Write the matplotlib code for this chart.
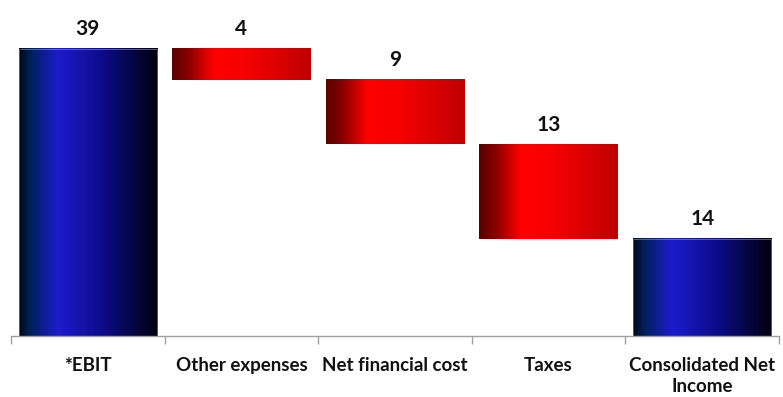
import numpy as np
import matplotlib
matplotlib.use("Agg")
import matplotlib.pyplot as plt
from matplotlib.colors import LinearSegmentedColormap

categories = ["*EBIT", "Other expenses", "Net financial cost", "Taxes", "Consolidated Net\nIncome"]
values = [39.3, -4.3, -8.8, -12.9, 13.3]
labels = ["39", "4", "9", "13", "14"]
is_total = [True, False, False, False, True]

blue_cmap = LinearSegmentedColormap.from_list(
    "blue_grad", [(0.0, "#000818"), (0.08, "#00205a"), (0.28, "#1c1ccc"),
                  (0.6, "#0c0c8a"), (1.0, "#00000c")])
red_cmap = LinearSegmentedColormap.from_list(
    "red_grad", [(0.0, "#5a0000"), (0.12, "#8a0000"), (0.3, "#ff0000"),
                 (0.55, "#f50000"), (1.0, "#be0000")])

fig = plt.figure(figsize=(7.83, 3.97), dpi=100)
ax = fig.add_axes([11 / 783, 61 / 397, 768 / 783, 326 / 397])

grad = np.linspace(0, 1, 256).reshape(1, -1)
width = 0.9
running = 0.0
for i, (v, lab, tot) in enumerate(zip(values, labels, is_total)):
    if tot:
        bottom, top = 0.0, v
        running = v
        cmap = blue_cmap
    else:
        top = running
        bottom = running + v
        running = bottom
        cmap = red_cmap
    ax.imshow(grad, cmap=cmap, aspect="auto", interpolation="bilinear",
              extent=(i - width / 2, i + width / 2, bottom, top), zorder=2)
    if tot:
        ax.add_patch(plt.Rectangle((i - width / 2, bottom), width, top - bottom,
                                   fill=False, edgecolor="#9a9aa8", linewidth=0.4, zorder=3))
    ax.annotate(lab, xy=(i, top), xytext=(0, 10), textcoords="offset points",
                ha="center", va="baseline", fontsize=15, fontweight="bold",
                family="Lato", color="#111111")

ax.set_xlim(-0.5, len(categories) - 0.5)
ax.set_ylim(0, 44.6)

for s in ["top", "right", "left"]:
    ax.spines[s].set_visible(False)
ax.spines["bottom"].set_color("#a0a0a0")
ax.spines["bottom"].set_linewidth(1.0)
ax.set_yticks([])

ax.set_xticks(np.arange(-0.5, len(categories)), minor=False)
ax.set_xticklabels([])
ax.tick_params(axis="x", which="major", length=6, color="#a0a0a0", width=1)
ax.set_xticks(np.arange(len(categories)), minor=True)
ax.set_xticklabels(categories, minor=True, fontsize=13.5, fontweight="bold",
                   family="Lato", color="#111111", linespacing=1.3)
ax.tick_params(axis="x", which="minor", length=0, pad=15)

fig.savefig("out.png", dpi=100)
